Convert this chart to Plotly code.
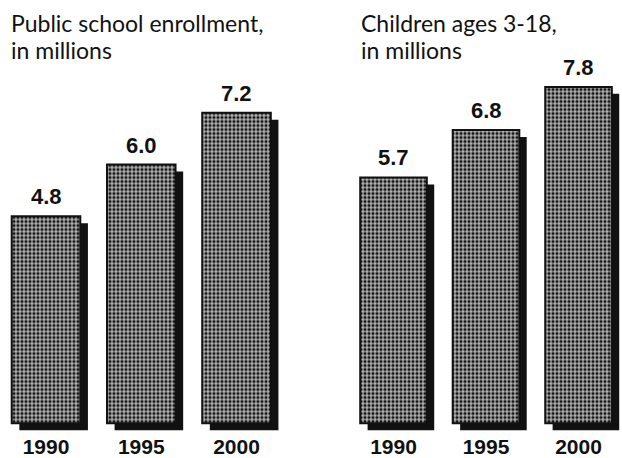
import plotly.graph_objects as go

# Data
years = ["1990", "1995", "2000"]
enrollment = [4.8, 6.0, 7.2]        # public school enrollment, millions
children = [5.7, 6.8, 7.8]          # children ages 3-18, millions
titles = [["Public school enrollment,", "in millions"],
          ["Children ages 3-18,", "in millions"]]

W, H = 622, 458
BAR_W = 0.72
SHADOW_DY = 0.16
SHADOW_DX = 0.08

face_pattern = dict(shape=".", fgcolor="#141414", bgcolor="#b4b4b4",
                    size=4, solidity=0.5, fillmode="replace")

fig = go.Figure()
xs = list(range(len(years)))

for vals, xa in [(enrollment, "x"), (children, "x2")]:
    # drop shadow
    fig.add_trace(go.Bar(
        x=xs, y=vals, base=[-SHADOW_DY] * len(vals), width=BAR_W,
        offset=-BAR_W / 2 + SHADOW_DX, xaxis=xa, yaxis="y",
        marker=dict(color="#111111", line=dict(width=0)),
        hoverinfo="skip", showlegend=False))
    # stippled face
    fig.add_trace(go.Bar(
        x=xs, y=vals, width=BAR_W, xaxis=xa, yaxis="y",
        marker=dict(color="#7a7a7a", pattern=face_pattern,
                    line=dict(color="#111111", width=2)),
        showlegend=False))
    for xi, v in zip(xs, vals):
        fig.add_annotation(x=xi, y=v, xref=xa, yref="y", text=f"{v:.1f}",
                           showarrow=False, yanchor="bottom", yshift=5,
                           font=dict(family="Liberation Sans", size=22,
                                     color="#111111", weight="bold"))

# two-line headings, one annotation per line
for i, lines in enumerate(titles):
    for j, line in enumerate(lines):
        fig.add_annotation(x=[9 / W, 359 / W][i], y=1 - (7 + 27 * j) / H,
                           xref="paper", yref="paper",
                           xanchor="left", yanchor="top", align="left", text=line,
                           showarrow=False,
                           font=dict(family="Lato", size=23, color="#111111"))

axis_common = dict(tickvals=xs, ticktext=years, showgrid=False, zeroline=False,
                   showline=False, ticks="",
                   tickfont=dict(family="Liberation Sans", size=21,
                                 color="#111111", weight="bold"))

fig.update_layout(
    width=W, height=H,
    margin=dict(l=0, r=0, t=0, b=0),
    paper_bgcolor="white", plot_bgcolor="white",
    barmode="overlay",
    xaxis=dict(domain=[0, 0.5], range=[-0.483, 2.782], anchor="y", **axis_common),
    xaxis2=dict(domain=[0.5, 1], range=[-0.892, 2.470], anchor="y", **axis_common),
    yaxis=dict(domain=[22 / H, 1 - 60 / H], range=[-0.207, 8.437], visible=False),
)

fig.write_html("out.html")
